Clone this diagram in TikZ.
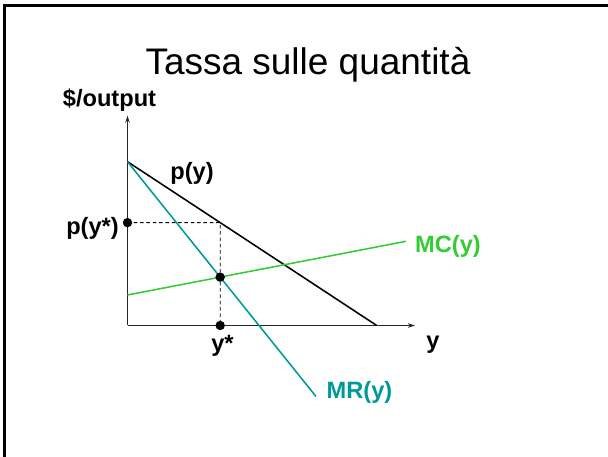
\documentclass[tikz,border=0pt]{standalone}
\usepackage{fontspec}
\setmainfont{Liberation Sans}
\usepackage{tikz}
\usetikzlibrary{arrows.meta}
\definecolor{mcgreen}{RGB}{51,204,51}
\definecolor{mrteal}{RGB}{0,153,153}

\begin{document}
\begin{tikzpicture}[x=0.025cm, y=-0.025cm,
  lbl/.style={font=\fontsize{16.8}{20}\selectfont\bfseries, inner sep=0pt, anchor=base},
  dot/.style={circle, fill=black, inner sep=0pt, minimum size=6.7pt},
  curve/.style={line width=1.1pt},
  axis/.style={-{Stealth[length=5pt,width=3.2pt]}, line width=0.7pt, black!85},
  guide/.style={dash pattern=on 2.5pt off 2pt, line width=0.6pt}]
  \useasboundingbox (0,0) rectangle (608,457);
  \draw[line width=1.9pt] (4.7,470) -- (4.7,5.3) -- (620,5.3);
  \node[font=\fontsize{26.3}{30}\selectfont, inner sep=0pt, anchor=base] (title) at (308,75) {Tassa sulle quantità};
  \coordinate (O) at (127.5,325.5);
  \coordinate (ytop) at (127.5,115.7);
  \coordinate (xend) at (415,325.5);
  \draw[axis] (O) -- (ytop);
  \draw[axis] (O) -- (xend);
  \coordinate (p1) at (127.5,161.7);
  \coordinate (p2) at (376.7,325.5);
  \coordinate (mr2) at (316,396.5);
  \coordinate (mc1) at (127.5,295);
  \coordinate (mc2) at (406,241.3);
  \draw[curve] (p1) -- (p2);
  \draw[curve, mrteal] (p1) -- (mr2);
  \draw[curve, mcgreen] (mc1) -- (mc2);
  \coordinate (eq) at (intersection of p1--mr2 and mc1--mc2);
  \coordinate (ys) at (eq |- O);
  \coordinate (pq) at (intersection of p1--p2 and eq--ys);
  \coordinate (ps) at (O |- pq);
  \node[dot] (eqdot) at (eq) {};
  \node[dot] (psdot) at (ps) {};
  \node[dot] (ysdot) at (ys) {};
  \draw[guide] (psdot.center) -- (pq) -- (ysdot.center);
  \node[lbl] (ylbl) at (109.5,106.5) {\$/output};
  \node[lbl] (pylbl) at (192,179.5) {p(y)};
  \node[lbl] (pslbl) at (92.5,234.5) {p(y*)};
  \node[lbl] (yslbl) at (222.5,352) {y*};
  \node[lbl] (xlbl) at (433,349) {y};
  \node[lbl, text=mcgreen] (mclbl) at (448,253) {MC(y)};
  \node[lbl, text=mrteal] (mrlbl) at (359.5,399) {MR(y)};
\end{tikzpicture}
\end{document}
